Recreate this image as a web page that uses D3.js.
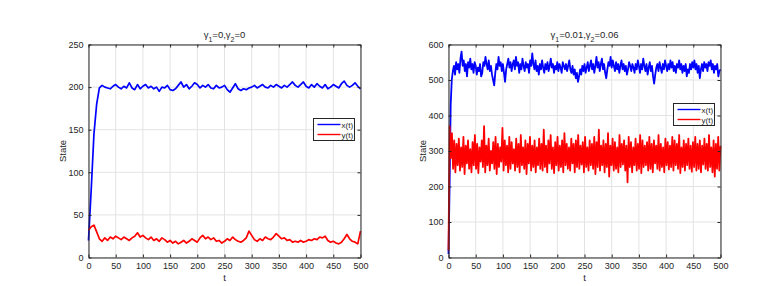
<!DOCTYPE html>
<html><head><meta charset="utf-8">
<script src="https://cdn.jsdelivr.net/npm/d3@7"></script>
<style>body{margin:0;background:#fff}svg{display:block}text{font-family:"Liberation Sans",Arial,sans-serif}</style>
</head><body><svg id="c" width="778" height="286"></svg>
<script>
// ---- data ----
const xTicks = [0,50,100,150,200,250,300,350,400,450,500];
const leftYTicks = [0,50,100,150,200,250];
const rightYTicks = [0,100,200,300,400,500,600];
const legendLabels = ["x(t)","y(t)"];
const seriesColors = ["#0000ff","#ff0000"];

// left panel (gamma1=0, gamma2=0), samples evenly spaced over t in [0,500]
const leftX = [20,80,145,180,199,202,200,199,198,201,203,200,198,201,199,205,199,197,203,198,201,203,199,201,198,200,195,200,199,202,197,196,198,202,206,200,203,198,201,205,203,199,202,200,203,199,198,202,199,200,202,197,194,199,204,198,196,198,197,199,200,202,199,201,203,200,199,202,200,203,201,199,202,200,203,206,202,200,203,206,201,199,203,200,204,201,199,203,198,200,203,201,199,204,207,202,200,202,205,201,198];
const leftY = [32,36,38,30,22,19,23,20,24,22,25,23,21,24,22,20,23,25,29,24,26,23,21,24,20,22,19,23,21,18,20,17,19,16,18,20,17,19,22,20,18,23,26,22,24,21,23,19,20,17,19,22,20,24,21,19,18,20,23,31,26,21,19,22,20,24,22,21,24,28,25,22,23,20,21,18,19,18,20,18,19,21,20,22,21,24,23,25,20,18,19,17,16,18,22,27,22,19,18,16,31];

// right panel (gamma1=0.01, gamma2=0.06)
const rightX = [10,200,430,500,525,540,515,550,530,545,520,560,580,540,555,525,545,510,550,535,560,530,545,520,550,540,515,535,525,545,510,520,550,540,565,545,530,555,525,540,515,500,485,520,545,530,565,540,550,525,545,520,495,530,545,560,535,550,525,545,555,530,565,540,550,520,545,530,560,540,525,550,535,545,520,555,540,575,545,530,555,525,540,515,545,530,555,535,520,545,530,550,525,540,560,535,545,520,540,530,550,525,545,535,520,550,540,530,545,525,540,555,530,520,540,515,530,505,520,495,510,530,515,540,525,545,520,535,550,525,540,555,530,545,520,540,565,535,550,525,545,560,530,545,520,505,530,550,540,565,535,555,540,525,550,530,545,520,540,555,530,545,525,540,515,530,550,540,525,545,535,520,545,530,555,540,520,545,530,560,540,525,545,515,535,550,525,540,510,490,515,535,545,525,550,535,520,545,530,555,540,525,545,530,555,535,550,525,540,520,545,535,555,530,545,520,540,525,545,510,530,520,545,530,550,535,555,530,545,520,540,505,530,545,525,550,535,545,525,550,540,555,530,545,520,540,530,545,510,525,530];
const rightY = [20,370,280,350,250,330,240,320,260,335,245,310,255,340,235,315,265,330,250,305,240,325,260,345,250,320,238,310,270,330,255,370,240,315,260,335,245,300,265,325,250,340,235,320,255,310,270,365,245,330,260,315,240,340,250,325,265,305,245,335,255,320,240,345,260,310,250,330,235,320,265,340,245,315,255,330,240,310,260,335,250,320,245,360,255,315,240,330,265,345,250,310,238,325,260,340,245,315,255,330,240,350,260,320,250,310,245,335,265,320,240,330,255,345,250,315,262,325,240,340,255,310,245,330,260,320,250,340,235,325,255,360,245,315,260,330,240,320,255,350,228,315,260,335,245,325,250,310,240,345,255,320,262,330,245,315,212,340,255,325,240,310,260,335,245,320,250,345,238,330,255,315,260,325,245,340,250,320,240,330,265,315,250,345,245,320,255,310,240,335,260,325,248,315,255,340,245,330,260,320,250,345,238,310,255,330,245,320,260,335,250,315,242,325,255,340,245,320,250,330,240,315,262,335,250,320,245,345,255,310,240,330,228,320,250,340,245,315];

const tMax = 500;

const svg = d3.select("#c");

function panel(opts) {
  const {left, right, top, bottom, yMax, yTicks, xs, ys, titleParts, legend, lw} = opts;
  const g = svg.append("g");
  const x = d3.scaleLinear().domain([0, tMax]).range([left, right]);
  const y = d3.scaleLinear().domain([0, yMax]).range([bottom, top]);

  // grid
  g.append("g").selectAll("line.vx").data(xTicks).join("line")
    .attr("x1", d => x(d)).attr("x2", d => x(d)).attr("y1", top).attr("y2", bottom)
    .attr("stroke", "#e3e3e3").attr("stroke-width", 1);
  g.append("g").selectAll("line.hy").data(yTicks).join("line")
    .attr("x1", left).attr("x2", right).attr("y1", d => y(d)).attr("y2", d => y(d))
    .attr("stroke", "#e3e3e3").attr("stroke-width", 1);

  // series
  const mk = arr => arr.map((v, i) => [i * tMax / (arr.length - 1), v]);
  const line = d3.line().x(d => x(d[0])).y(d => y(d[1]));
  g.append("path").datum(mk(xs)).attr("d", line).attr("fill", "none")
    .attr("stroke", seriesColors[0]).attr("stroke-width", lw).attr("stroke-linejoin", "round");
  g.append("path").datum(mk(ys)).attr("d", line).attr("fill", "none")
    .attr("stroke", seriesColors[1]).attr("stroke-width", lw).attr("stroke-linejoin", "round");

  // axes
  const ax = g.append("g").attr("transform", `translate(0,${bottom})`)
    .call(d3.axisBottom(x).tickValues(xTicks).tickSizeInner(-3).tickSizeOuter(0).tickPadding(5));
  const axT = g.append("g").attr("transform", `translate(0,${top})`)
    .call(d3.axisTop(x).tickValues(xTicks).tickSizeInner(-3).tickSizeOuter(0).tickFormat(""));
  const ay = g.append("g").attr("transform", `translate(${left},0)`)
    .call(d3.axisLeft(y).tickValues(yTicks).tickSizeInner(-3).tickSizeOuter(0).tickPadding(5));
  const ayR = g.append("g").attr("transform", `translate(${right},0)`)
    .call(d3.axisRight(y).tickValues(yTicks).tickSizeInner(-3).tickSizeOuter(0).tickFormat(""));
  [ax, axT, ay, ayR].forEach(a => {
    a.select(".domain").attr("stroke", "#262626").attr("stroke-width", 1);
    a.selectAll(".tick line").attr("stroke", "#262626");
    a.selectAll("text").attr("fill", "#262626").style("font-size", "9px")
      .style("font-family", '"Liberation Sans",Arial,sans-serif');
  });

  // labels
  g.append("text").attr("x", (left + right) / 2).attr("y", bottom + 23)
    .attr("text-anchor", "middle").attr("fill", "#262626").style("font-size", "9.5px").text("t");
  g.append("text").attr("transform", `translate(${left - 23},${(top + bottom) / 2}) rotate(-90)`)
    .attr("text-anchor", "middle").attr("fill", "#262626").style("font-size", "9.5px").text("State");

  // title
  const tt = g.append("text").attr("x", (left + right) / 2).attr("y", top - 7)
    .attr("text-anchor", "middle").attr("fill", "#262626").style("font-size", "9.5px");
  titleParts.forEach(p => {
    const s = tt.append("tspan").text(p.t);
    if (p.sub) s.attr("baseline-shift", "sub").style("font-size", "7px");
  });

  // legend
  const lg = g.append("g");
  lg.append("rect").attr("x", legend.x).attr("y", legend.y).attr("width", 41).attr("height", 22)
    .attr("fill", "#fff").attr("stroke", "#262626").attr("stroke-width", 1);
  legendLabels.forEach((lab, i) => {
    const yy = legend.y + 6 + i * 10;
    lg.append("line").attr("x1", legend.x + 4).attr("x2", legend.x + 27).attr("y1", yy).attr("y2", yy)
      .attr("stroke", seriesColors[i]).attr("stroke-width", 1.4);
    lg.append("text").attr("x", legend.x + 28).attr("y", yy + 3).attr("fill", "#262626")
      .style("font-size", "8px").text(lab);
  });
}

panel({left: 88.5, right: 360.5, top: 44.5, bottom: 257.5, yMax: 250, yTicks: leftYTicks,
  xs: leftX, ys: leftY, lw: 1.7,
  titleParts: [{t:"γ"},{t:"1",sub:true},{t:"=0,γ"},{t:"2",sub:true},{t:"=0"}],
  legend: {x: 313.5, y: 118.5}});
panel({left: 448.5, right: 720.5, top: 44.5, bottom: 257.5, yMax: 600, yTicks: rightYTicks,
  xs: rightX, ys: rightY, lw: 1.8,
  titleParts: [{t:"γ"},{t:"1",sub:true},{t:"=0.01,γ"},{t:"2",sub:true},{t:"=0.06"}],
  legend: {x: 673.5, y: 103.5}});
</script></body></html>
